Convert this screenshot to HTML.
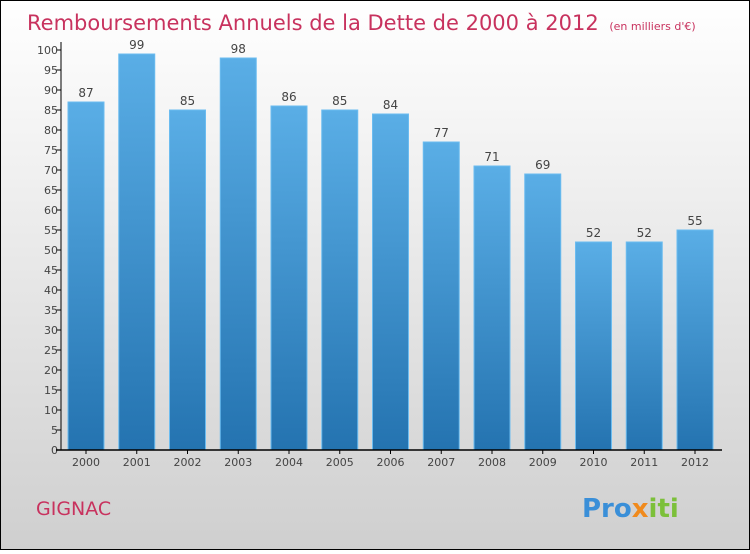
<!DOCTYPE html>
<html><head><meta charset="utf-8"><style>
body{margin:0}
#c{width:750px;height:550px;position:relative;font-family:"DejaVu Sans","Liberation Sans",sans-serif}
</style></head><body>
<div id="c">
<svg width="750" height="550" id="s">
<defs>
<linearGradient id="bg" x1="0" y1="0" x2="0" y2="1"><stop offset="0" stop-color="#ffffff"/><stop offset="1" stop-color="#cfcfcf"/></linearGradient>
<linearGradient id="bar" x1="0" y1="0" x2="0" y2="1"><stop offset="0" stop-color="#5aaee6"/><stop offset="1" stop-color="#2473b0"/></linearGradient>
</defs>
<rect x="0.5" y="0.5" width="749" height="549" fill="url(#bg)" stroke="#000"/>
<text x="27" y="30" font-size="21" fill="#c8325e">Remboursements Annuels de la Dette de 2000 à 2012 <tspan font-size="11" dx="4">(en milliers d'€)</tspan></text>
<text x="36" y="515" font-size="19" fill="#c8325e">GIGNAC</text>
<text x="582" y="517" font-size="26" font-weight="bold"><tspan fill="#3a8fd8">Pro</tspan><tspan fill="#f08a1c">x</tspan><tspan fill="#7cc03a">iti</tspan></text>
<g id="g"></g>
</svg>
</div>
<script>
const years=["2000","2001","2002","2003","2004","2005","2006","2007","2008","2009","2010","2011","2012"];
const values=[87,99,85,98,86,85,84,77,71,69,52,52,55];
const yTicks=[0,5,10,15,20,25,30,35,40,45,50,55,60,65,70,75,80,85,90,95,100];
const NS="http://www.w3.org/2000/svg";
const g=document.getElementById('g');
const y0=450,y1=50,xL=61,step=50.75,bw=36,first=68;
const ys=v=>y0-(v/100)*(y0-y1);
const xs=i=>first+i*step;
function el(t,a,txt){const e=document.createElementNS(NS,t);for(const k in a)e.setAttribute(k,a[k]);if(txt!==undefined)e.textContent=txt;g.appendChild(e);return e;}
values.forEach((v,i)=>{
 const r=el('rect',{x:xs(i),y:ys(v),width:bw,height:y0-ys(v),fill:'url(#bar)',stroke:'#6bbcf0','stroke-width':1});
 
 
 const t=el('text',{x:xs(i)+bw/2,y:ys(v)-5,'font-size':12,fill:'#444','text-anchor':'middle'},v);
 
 
 const xl=el('text',{x:xs(i)+bw/2,y:y0+16,'font-size':11,fill:'#444','text-anchor':'middle'},years[i]);
 
 
 const tk=el('line',{x1:xs(i)+bw/2,x2:xs(i)+bw/2,y1:y0,y2:y0+4,stroke:'#000'});
 
 
});
yTicks.forEach(v=>{
 const l=el('line',{x1:xL-5,x2:xL,y1:ys(v),y2:ys(v),stroke:'#000'});
 
 
 const t=el('text',{x:xL-3,y:ys(v)+4,'font-size':11,fill:'#444','text-anchor':'end',transform:''},v);
 
 
});
const ya=el('line',{x1:xL,x2:xL,y1:y1-8,y2:y0,stroke:'#000'});


const xa=el('line',{x1:xL-5,x2:722,y1:y0,y2:y0,stroke:'#000','stroke-width':1.5});


</script>
</body></html>
